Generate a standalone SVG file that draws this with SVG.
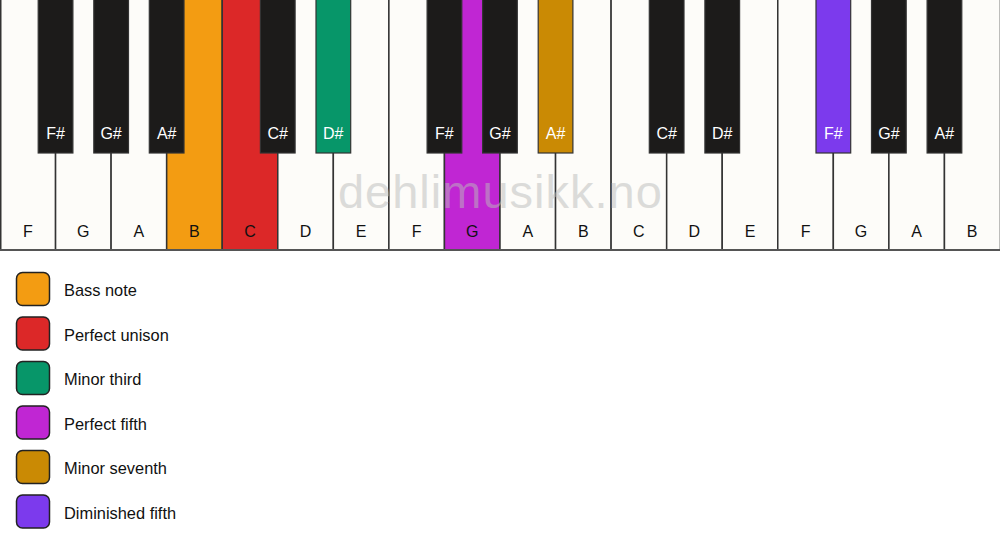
<svg xmlns="http://www.w3.org/2000/svg" width="1000" height="550" viewBox="0 0 1000 550">
<style>
.w{fill:#fdfcf9;stroke:#333;stroke-width:1.5}
.b{fill:#1c1b1a;stroke:#333;stroke-width:1.2}
.wl{font-family:"Liberation Sans",Arial,sans-serif;font-size:16px;fill:#111;text-anchor:middle}
.bl{font-family:"Liberation Sans",Arial,sans-serif;font-size:16px;fill:#fff;text-anchor:middle}
.lg{stroke:#222;stroke-width:1.5}
.lt{font-family:"Liberation Sans",Arial,sans-serif;font-size:16.4px;fill:#111}
</style>
<rect width="1000" height="550" fill="#ffffff"/>
<g id="white-keys">
<g id="wk-F1"><rect class="w" x="0.75" y="-2" width="54.81" height="252"/><text class="wl" x="27.8" y="237">F</text></g>
<g id="wk-G1"><rect class="w" x="55.56" y="-2" width="55.56" height="252"/><text class="wl" x="83.3" y="237">G</text></g>
<g id="wk-A1"><rect class="w" x="111.11" y="-2" width="55.56" height="252"/><text class="wl" x="138.9" y="237">A</text></g>
<g id="wk-B1"><rect class="w" x="166.67" y="-2" width="55.56" height="252" style="fill:#f39c12"/><text class="wl" x="194.4" y="237">B</text></g>
<g id="wk-C1"><rect class="w" x="222.22" y="-2" width="55.56" height="252" style="fill:#dc2828"/><text class="wl" x="250" y="237">C</text></g>
<g id="wk-D1"><rect class="w" x="277.78" y="-2" width="55.56" height="252"/><text class="wl" x="305.6" y="237">D</text></g>
<g id="wk-E1"><rect class="w" x="333.33" y="-2" width="55.56" height="252"/><text class="wl" x="361.1" y="237">E</text></g>
<g id="wk-F2"><rect class="w" x="388.89" y="-2" width="55.56" height="252"/><text class="wl" x="416.7" y="237">F</text></g>
<g id="wk-G2"><rect class="w" x="444.44" y="-2" width="55.56" height="252" style="fill:#c026d3"/><text class="wl" x="472.2" y="237">G</text></g>
<g id="wk-A2"><rect class="w" x="500" y="-2" width="55.56" height="252"/><text class="wl" x="527.8" y="237">A</text></g>
<g id="wk-B2"><rect class="w" x="555.56" y="-2" width="55.56" height="252"/><text class="wl" x="583.3" y="237">B</text></g>
<g id="wk-C2"><rect class="w" x="611.11" y="-2" width="55.56" height="252"/><text class="wl" x="638.9" y="237">C</text></g>
<g id="wk-D2"><rect class="w" x="666.67" y="-2" width="55.56" height="252"/><text class="wl" x="694.4" y="237">D</text></g>
<g id="wk-E2"><rect class="w" x="722.22" y="-2" width="55.56" height="252"/><text class="wl" x="750" y="237">E</text></g>
<g id="wk-F3"><rect class="w" x="777.78" y="-2" width="55.56" height="252"/><text class="wl" x="805.6" y="237">F</text></g>
<g id="wk-G3"><rect class="w" x="833.33" y="-2" width="55.56" height="252"/><text class="wl" x="861.1" y="237">G</text></g>
<g id="wk-A3"><rect class="w" x="888.89" y="-2" width="55.56" height="252"/><text class="wl" x="916.7" y="237">A</text></g>
<g id="wk-B3"><rect class="w" x="944.44" y="-2" width="56" height="252"/><text class="wl" x="972.2" y="237">B</text></g>
<line x1="0" y1="250" x2="1000" y2="250" stroke="#555" stroke-width="2"/>
</g>
<g id="black-keys">
<g id="bk-Fs1"><rect class="b" x="38.2" y="-2" width="34.7" height="155"/><text class="bl" x="55.6" y="139">F#</text></g>
<g id="bk-Gs1"><rect class="b" x="93.8" y="-2" width="34.7" height="155"/><text class="bl" x="111.1" y="139">G#</text></g>
<g id="bk-As1"><rect class="b" x="149.3" y="-2" width="34.7" height="155"/><text class="bl" x="166.7" y="139">A#</text></g>
<g id="bk-Cs1"><rect class="b" x="260.4" y="-2" width="34.7" height="155"/><text class="bl" x="277.8" y="139">C#</text></g>
<g id="bk-Ds1"><rect class="b" x="316" y="-2" width="34.7" height="155" style="fill:#079669"/><text class="bl" x="333.3" y="139">D#</text></g>
<g id="bk-Fs2"><rect class="b" x="427.1" y="-2" width="34.7" height="155"/><text class="bl" x="444.4" y="139">F#</text></g>
<g id="bk-Gs2"><rect class="b" x="482.6" y="-2" width="34.7" height="155"/><text class="bl" x="500" y="139">G#</text></g>
<g id="bk-As2"><rect class="b" x="538.2" y="-2" width="34.7" height="155" style="fill:#ca8a04"/><text class="bl" x="555.6" y="139">A#</text></g>
<g id="bk-Cs2"><rect class="b" x="649.3" y="-2" width="34.7" height="155"/><text class="bl" x="666.7" y="139">C#</text></g>
<g id="bk-Ds2"><rect class="b" x="704.9" y="-2" width="34.7" height="155"/><text class="bl" x="722.2" y="139">D#</text></g>
<g id="bk-Fs3"><rect class="b" x="816" y="-2" width="34.7" height="155" style="fill:#7c3aed"/><text class="bl" x="833.3" y="139">F#</text></g>
<g id="bk-Gs3"><rect class="b" x="871.5" y="-2" width="34.7" height="155"/><text class="bl" x="888.9" y="139">G#</text></g>
<g id="bk-As3"><rect class="b" x="927.1" y="-2" width="34.7" height="155"/><text class="bl" x="944.4" y="139">A#</text></g>
</g>
<text id="watermark" x="500.4" y="208" font-family="Liberation Sans, Arial, sans-serif" font-size="47" letter-spacing="1" text-anchor="middle" fill="#bbbbbb" opacity="0.5">dehlimusikk.no</text>
<g id="legend">
<g id="lg-bass"><rect class="lg" x="16.5" y="272.5" width="33" height="33" rx="6" fill="#f39c12"/><text class="lt" x="64" y="296">Bass note</text></g>
<g id="lg-unison"><rect class="lg" x="16.5" y="317" width="33" height="33" rx="6" fill="#dc2828"/><text class="lt" x="64" y="340.5">Perfect unison</text></g>
<g id="lg-m3"><rect class="lg" x="16.5" y="361.5" width="33" height="33" rx="6" fill="#079669"/><text class="lt" x="64" y="385">Minor third</text></g>
<g id="lg-p5"><rect class="lg" x="16.5" y="406" width="33" height="33" rx="6" fill="#c026d3"/><text class="lt" x="64" y="429.5">Perfect fifth</text></g>
<g id="lg-m7"><rect class="lg" x="16.5" y="450.5" width="33" height="33" rx="6" fill="#ca8a04"/><text class="lt" x="64" y="474">Minor seventh</text></g>
<g id="lg-d5"><rect class="lg" x="16.5" y="495" width="33" height="33" rx="6" fill="#7c3aed"/><text class="lt" x="64" y="518.5">Diminished fifth</text></g>
</g>
</svg>
